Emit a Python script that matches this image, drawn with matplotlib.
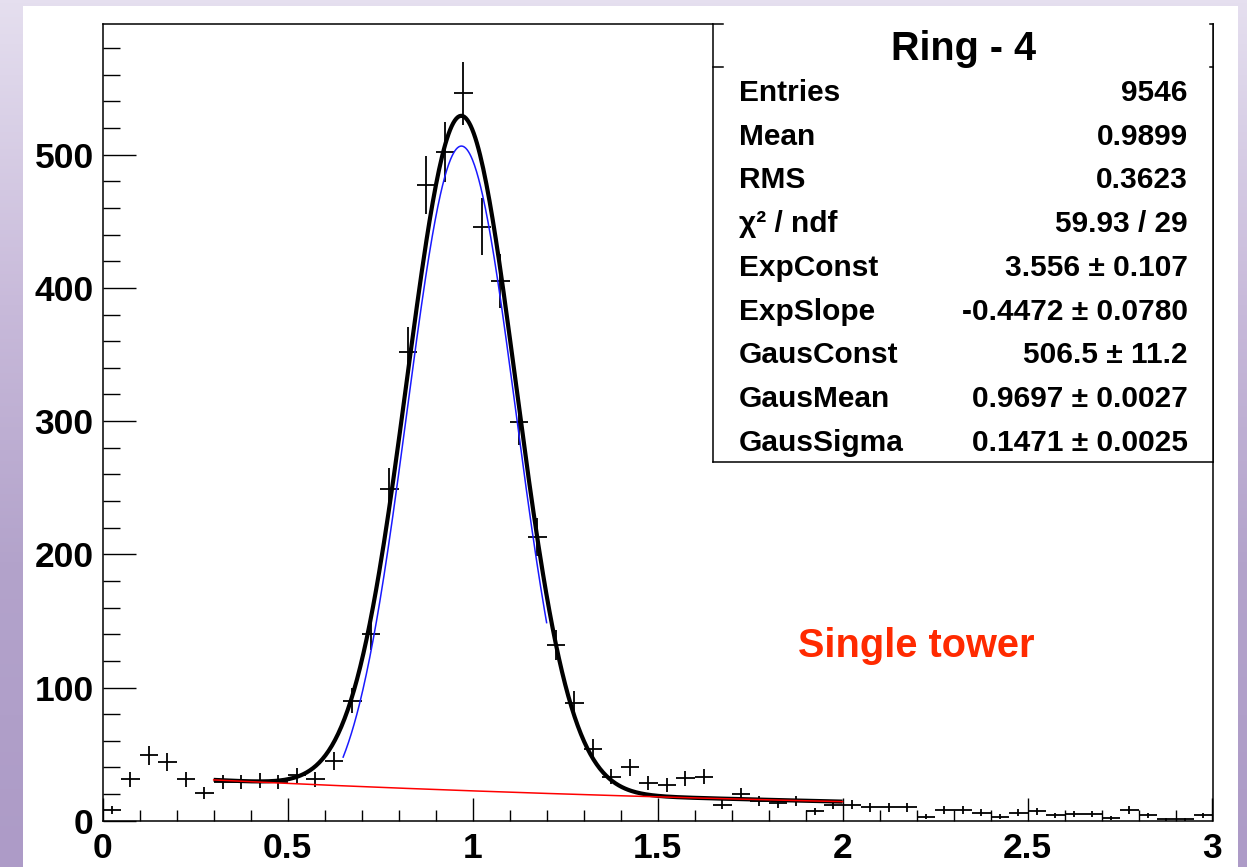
import numpy as np
import matplotlib
matplotlib.use("Agg")
import matplotlib.pyplot as plt
from matplotlib.colors import LinearSegmentedColormap
from matplotlib.ticker import MultipleLocator

# ---------------- data ----------------
bin_width = 0.05
bin_centers = np.arange(60) * bin_width + bin_width / 2
counts = [8, 31, 49, 44, 31, 21, 29, 29, 30, 29,
          34, 31, 45, 90, 140, 249, 352, 477, 502, 546,
          446, 405, 299, 213, 132, 88, 54, 33, 40, 28,
          27, 32, 33, 12, 20, 15, 13, 15, 7, 12,
          12, 10, 10, 10, 3, 8, 8, 6, 3, 6,
          7, 4, 5, 5, 2, 8, 4, 1, 1, 4]

# fit parameters (from stats box)
exp_const = 3.556
exp_slope = -0.4472
gaus_const = 506.5
gaus_mean = 0.9697
gaus_sigma = 0.1471
fit_range = (0.30, 2.0)
gaus_range = (0.65, 1.2)

title = "Ring - 4"
stat_labels = ["Entries", "Mean", "RMS", "χ² / ndf", "ExpConst", "ExpSlope",
               "GausConst", "GausMean", "GausSigma"]
stat_values = ["9546", "0.9899", "0.3623", "59.93 / 29", "3.556 ± 0.107",
               "-0.4472 ± 0.0780", "506.5 ± 11.2", "0.9697 ± 0.0027",
               "0.1471 ± 0.0025"]
annotation = "Single tower"
x_ticks = [0, 0.5, 1, 1.5, 2, 2.5, 3]
x_tick_labels = ["0", "0.5", "1", "1.5", "2", "2.5", "3"]
y_ticks = [0, 100, 200, 300, 400, 500]

# ---------------- figure ----------------
W, H = 1247, 867
fig = plt.figure(figsize=(W / 100, H / 100), dpi=100)
FONT = "Liberation Sans"

# background gradient
bg = fig.add_axes([0, 0, 1, 1], zorder=-10)
cmap = LinearSegmentedColormap.from_list(
    "bg", [(0.0, "#e5dfef"), (0.35, "#c8bada"), (0.65, "#b3a3cb"), (1.0, "#ad9bc7")])
grad = np.linspace(0, 1, 256).reshape(-1, 1)
bg.imshow(grad, aspect="auto", cmap=cmap, extent=[0, W, H, 0])
bg.add_patch(plt.Rectangle((23, 6), 1238 - 23, H - 6, facecolor="white", edgecolor="none"))
bg.set_xlim(0, W)
bg.set_ylim(H, 0)
bg.axis("off")

# main axes
x0, x1 = 102.7, 1212.5
y0, y1 = 820.7, 23.5
ax = fig.add_axes([x0 / W, (H - y0) / H, (x1 - x0) / W, (y0 - y1) / H])
ax.set_xlim(0, 3)
ax.set_ylim(0, 598.5)

cnt = np.array(counts, dtype=float)
ax.errorbar(bin_centers, cnt, xerr=bin_width / 2, yerr=np.sqrt(cnt), fmt="none",
            ecolor="black", elinewidth=1.3, capsize=0, zorder=2)

xf = np.linspace(fit_range[0], fit_range[1], 400)
bkg = np.exp(exp_const + exp_slope * xf)
total = bkg + gaus_const * np.exp(-0.5 * ((xf - gaus_mean) / gaus_sigma) ** 2)
ax.plot(xf, total, color="black", lw=3.0, zorder=3, solid_capstyle="butt")
xg = np.linspace(gaus_range[0], gaus_range[1], 300)
ax.plot(xg, gaus_const * np.exp(-0.5 * ((xg - gaus_mean) / gaus_sigma) ** 2),
        color="#1a1aff", lw=1.1, zorder=4)
ax.plot(xf, bkg, color="#ff0000", lw=1.1, zorder=5)

for s in ax.spines.values():
    s.set_linewidth(1.1)

ax.set_xticks(x_ticks)
ax.set_xticklabels(x_tick_labels)
ax.set_yticks(y_ticks)
ax.xaxis.set_minor_locator(MultipleLocator(0.1))
ax.yaxis.set_minor_locator(MultipleLocator(20))
ax.tick_params(axis="x", which="major", direction="in", length=16.6, width=1.0, pad=8,
               top=False, labelsize=25.5)
ax.tick_params(axis="x", which="minor", direction="in", length=8.2, width=1.0, top=False)
ax.tick_params(axis="y", which="major", direction="in", length=23.8, width=1.0, pad=6.5,
               right=False, labelsize=25.5)
ax.tick_params(axis="y", which="minor", direction="in", length=11.9, width=1.0, right=False)
for lab in ax.get_xticklabels() + ax.get_yticklabels():
    lab.set_fontfamily(FONT)
    lab.set_fontweight("bold")

# overlay in pixel coords for stats box and annotation
ov = fig.add_axes([0, 0, 1, 1], zorder=10)
ov.set_xlim(0, W)
ov.set_ylim(H, 0)
ov.axis("off")
bx0, bx1, by0, by1 = 713.3, 1213.3, 23.5, 461.7
ov.add_patch(plt.Rectangle((bx0, by0 - 2.5), bx1 - bx0, by1 - by0 + 2.5,
                           facecolor="white", edgecolor="none"))
lw = 1.1
ov.plot([bx0, bx0], [by0, by1], color="black", lw=lw)
ov.plot([bx1, bx1], [by0, by1], color="black", lw=lw)
ov.plot([bx0, bx1], [by1, by1], color="black", lw=lw)
for yy in (by0, 67.3):
    ov.plot([bx0, bx0 + 10], [yy, yy], color="black", lw=lw)
    ov.plot([bx1 - 3, bx1], [yy, yy], color="black", lw=lw)

ov.text((bx0 + bx1) / 2, 59.5, title, ha="center", va="baseline", fontsize=28.5,
        fontweight="bold", family=FONT)
for k, (lab, val) in enumerate(zip(stat_labels, stat_values)):
    yb = 101.0 + 43.7 * k
    ov.text(739, yb, lab, ha="left", va="baseline", fontsize=21.5, fontweight="bold",
            family=[FONT, "DejaVu Sans"])
    ov.text(1188, yb, val, ha="right", va="baseline", fontsize=21.5, fontweight="bold",
            family=[FONT, "DejaVu Sans"])

ov.text(916, 657, annotation, ha="center", va="baseline", fontsize=28.6,
        fontweight="bold", family=FONT, color="#ff2a00")

fig.savefig("out.png", dpi=100)
